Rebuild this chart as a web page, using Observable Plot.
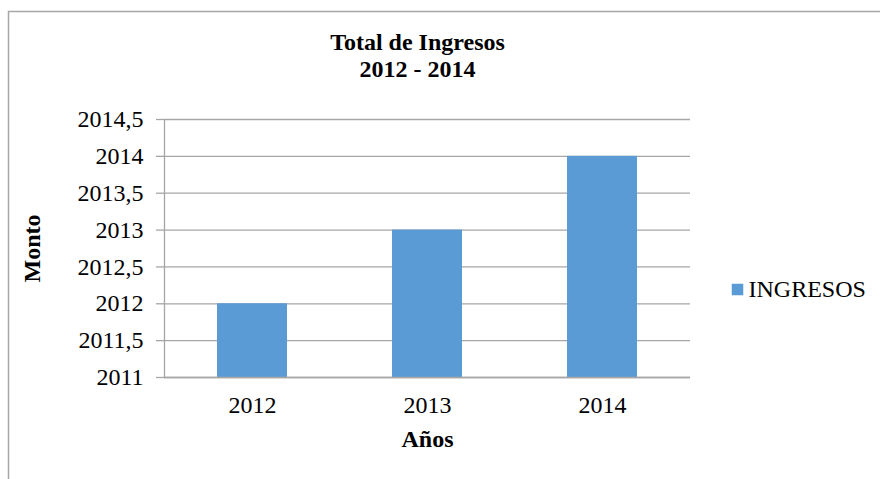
<!DOCTYPE html>
<html>
<head>
<meta charset="utf-8">
<script src="https://cdn.jsdelivr.net/npm/d3@7"></script>
<script src="https://cdn.jsdelivr.net/npm/@observablehq/plot@0.6"></script>
<style>
  html, body { margin: 0; padding: 0; background: #fff; }
  #chart svg { display: block; }
  #chart svg, #chart svg text { font-family: "Liberation Serif", "Times New Roman", serif !important; }
</style>
</head>
<body>
<div id="chart"></div>
<script>
const years = ["2012", "2013", "2014"];
const ingresos = [2012, 2013, 2014];
const yTicks = [2011, 2011.5, 2012, 2012.5, 2013, 2013.5, 2014, 2014.5];
const seriesName = "INGRESOS";
const titleLines = ["Total de Ingresos", "2012 - 2014"];
const xLabel = "Años";
const yLabel = "Monto";

const data = years.map((y, i) => ({year: y, value: ingresos[i]}));
const fmt = d => String(d).replace(".", ",");
const font = "Liberation Serif";
const fs = 24;
const gridColor = "#a6a6a6";
const barColor = "#5b9bd5";

const chart = Plot.plot({
  width: 880,
  height: 479,
  marginLeft: 164,
  marginRight: 190,
  marginTop: 119,
  marginBottom: 102,
  style: {fontFamily: font, fontSize: "24px", color: "#000", background: "#fff"},
  x: {domain: years, paddingInner: 0.6, paddingOuter: 0.3, label: null},
  y: {domain: [2011, 2014.5], ticks: yTicks, label: null},
  marks: [
    Plot.gridY(yTicks, {stroke: gridColor, strokeOpacity: 1, strokeWidth: 1.3}),
    Plot.rectY(data, {x: "year", y1: 2011, y2: "value", fill: barColor}),
    Plot.axisY(yTicks, {tickSize: 8, tickPadding: 13, tickFormat: fmt, stroke: gridColor, strokeWidth: 1.3, fontSize: fs, fontFamily: font, label: null}),
    Plot.ruleY([2011], {stroke: gridColor, strokeWidth: 1.3}),
    Plot.axisX({tickSize: 0, tickPadding: 18, fontSize: fs, fontFamily: font, label: null}),
    Plot.text([xLabel], {frameAnchor: "bottom", dy: 69, fontWeight: "bold", fontSize: fs, fontFamily: font, text: d => d}),
    Plot.text([yLabel], {frameAnchor: "left", dx: -132, rotate: -90, textAnchor: "middle", fontWeight: "bold", fontSize: fs, fontFamily: font, text: d => d}),
    Plot.text([titleLines[0]], {frameAnchor: "top", dy: -87, dx: -10, fontWeight: "bold", fontSize: fs, fontFamily: font, text: d => d}),
    Plot.text([titleLines[1]], {frameAnchor: "top", dy: -60, dx: -10, fontWeight: "bold", fontSize: fs, fontFamily: font, text: d => d}),
    Plot.dot([seriesName], {frameAnchor: "right", dx: 47, dy: 41, symbol: "square", r: 6.5, fill: barColor, stroke: null}),
    Plot.text([seriesName], {frameAnchor: "right", dx: 58, dy: 41, textAnchor: "start", fontSize: fs, fontFamily: font, text: d => d})
  ]
});
document.getElementById("chart").appendChild(chart);

// y-axis vertical line and outer chart border
const svg = d3.select(chart);
svg.append("line")
  .attr("x1", 164.5).attr("x2", 164.5).attr("y1", 119).attr("y2", 378)
  .attr("stroke", gridColor).attr("stroke-width", 1.3);
svg.append("rect")
  .attr("x", 8.5).attr("y", 11.5).attr("width", 1000).attr("height", 1000)
  .attr("fill", "none").attr("stroke", gridColor).attr("stroke-width", 1.5);
</script>
</body>
</html>
